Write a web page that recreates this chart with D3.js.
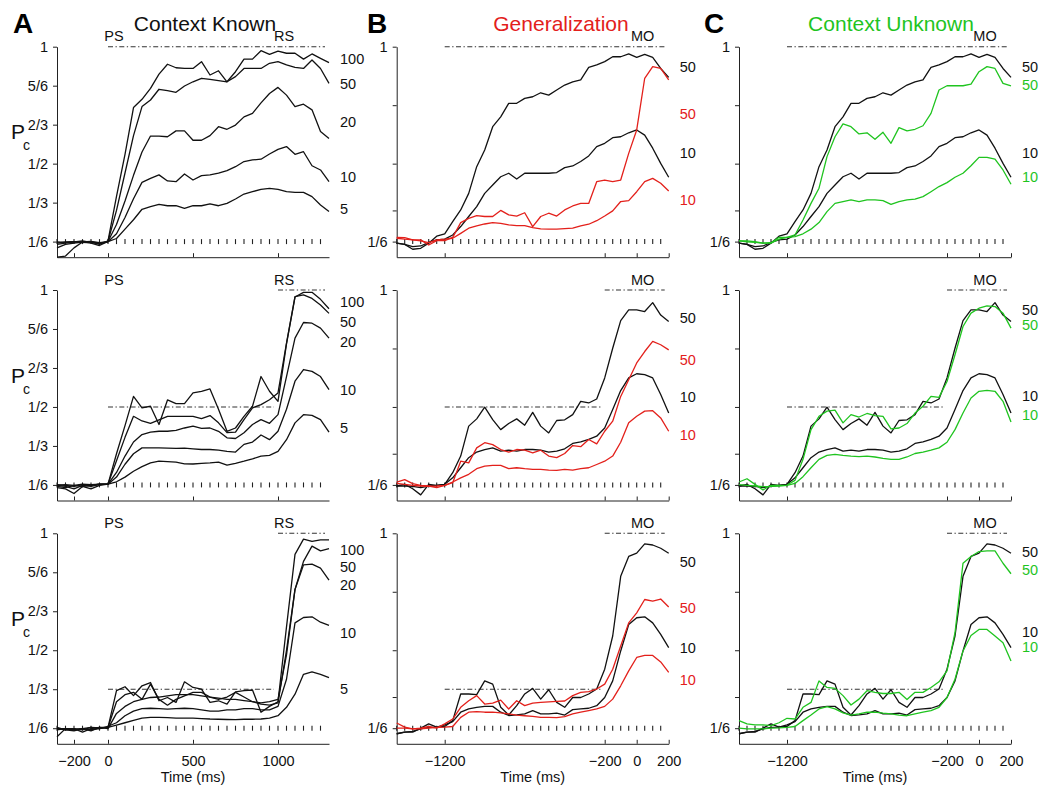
<!DOCTYPE html>
<html><head><meta charset="utf-8">
<script src="https://cdn.jsdelivr.net/npm/d3@7"></script>
<style>
body{margin:0;background:#fff;}
svg text{font-family:"Liberation Sans",Arial,Helvetica,sans-serif;fill:#111;}
</style></head><body>
<svg id="chart" width="1040" height="790"></svg>
<script>
// ---------- DATA ----------
const timeKnown = [-300,-250,-200,-150,-100,-50,0,50,100,150,200,250,300,350,400,450,500,550,600,650,700,750,800,850,900,950,1000,1050,1100,1150,1200,1250,1300];
const timeMO = [-1500,-1450,-1400,-1350,-1300,-1250,-1200,-1150,-1100,-1050,-1000,-950,-900,-850,-800,-750,-700,-650,-600,-550,-500,-450,-400,-350,-300,-250,-200,-150,-100,-50,0,50,100,150,200];

const columnTitles = ["Context Known","Generalization","Context Unknown"];
const panelLetters = ["A","B","C"];
const eventsKnown = [{t:0,name:"PS"},{t:1000,name:"RS"}];
const eventsMO = [{t:0,name:"MO"}];
const yTicksKnown = [1,5/6,2/3,1/2,1/3,1/6];
const yTickLabelsKnown = ["1","5/6","2/3","1/2","1/3","1/6"];
const yTicksMO = [1,0.75,0.5,0.3,1/6];
const yTickLabelsMO = ["1","","","","1/6"];
const xTicksKnown = [-200,0,500,1000];
const xTicksMO = [-1200,-200,0,200];
const rowCriteria = [1,1/2,1/3];   // criterion level (dash-dot) per row

// Panel A, Context Known (aligned to PS)
const knownTop100 = [0.10,0.105,0.14,0.165,0.165,0.155,0.17,0.36,0.54,0.74,0.775,0.822,0.883,0.925,0.91,0.907,0.907,0.936,0.879,0.897,0.85,0.893,0.947,0.947,0.983,0.967,0.981,0.972,0.972,0.947,0.969,0.95,0.932];
const knownTop50  = [0.14,0.155,0.16,0.165,0.16,0.15,0.168,0.30,0.46,0.62,0.744,0.772,0.818,0.812,0.805,0.832,0.85,0.865,0.86,0.855,0.85,0.872,0.907,0.907,0.907,0.929,0.936,0.922,0.912,0.907,0.943,0.907,0.843];
const knownTop20  = [0.16,0.165,0.167,0.162,0.165,0.16,0.167,0.24,0.34,0.45,0.55,0.618,0.618,0.615,0.64,0.64,0.60,0.60,0.62,0.658,0.647,0.665,0.70,0.715,0.76,0.80,0.826,0.793,0.744,0.754,0.73,0.637,0.608];
const knownTop10  = [0.155,0.16,0.165,0.17,0.163,0.158,0.166,0.20,0.27,0.35,0.42,0.437,0.452,0.426,0.423,0.456,0.43,0.449,0.452,0.459,0.47,0.487,0.509,0.516,0.519,0.541,0.561,0.573,0.54,0.551,0.491,0.473,0.423];
const knownTop5   = [0.165,0.163,0.167,0.165,0.168,0.162,0.167,0.18,0.22,0.26,0.305,0.316,0.326,0.32,0.32,0.309,0.32,0.32,0.328,0.32,0.33,0.349,0.37,0.38,0.39,0.394,0.39,0.38,0.377,0.377,0.359,0.323,0.295];

const knownMid100 = [0.16,0.155,0.165,0.16,0.165,0.17,0.17,0.30,0.42,0.545,0.496,0.503,0.425,0.53,0.514,0.514,0.56,0.567,0.577,0.49,0.396,0.41,0.46,0.503,0.63,0.567,0.524,0.77,0.97,0.99,0.99,0.96,0.92];
const knownMid50  = [0.155,0.15,0.13,0.16,0.15,0.165,0.17,0.27,0.37,0.46,0.44,0.43,0.445,0.46,0.46,0.46,0.46,0.45,0.463,0.432,0.39,0.392,0.446,0.496,0.51,0.531,0.56,0.773,0.972,0.979,0.964,0.936,0.90];
const knownMid20  = [0.165,0.16,0.15,0.165,0.16,0.168,0.17,0.22,0.29,0.35,0.382,0.392,0.396,0.396,0.40,0.41,0.418,0.408,0.41,0.396,0.368,0.365,0.39,0.425,0.446,0.43,0.467,0.63,0.794,0.861,0.858,0.837,0.794];
const knownMid10  = [0.168,0.165,0.16,0.168,0.165,0.17,0.17,0.20,0.255,0.30,0.325,0.325,0.325,0.324,0.323,0.324,0.321,0.318,0.318,0.315,0.31,0.307,0.34,0.35,0.38,0.36,0.396,0.49,0.61,0.66,0.652,0.63,0.574];
const knownMid5   = [0.165,0.168,0.165,0.17,0.168,0.17,0.17,0.18,0.20,0.225,0.245,0.261,0.268,0.266,0.264,0.257,0.256,0.259,0.261,0.264,0.251,0.259,0.268,0.278,0.29,0.293,0.31,0.36,0.432,0.467,0.464,0.446,0.392];

const knownBot100 = [0.13,0.165,0.16,0.165,0.155,0.17,0.17,0.327,0.344,0.306,0.348,0.362,0.284,0.298,0.277,0.365,0.341,0.334,0.277,0.284,0.27,0.322,0.327,0.33,0.235,0.26,0.28,0.60,0.91,0.975,0.965,0.972,0.972];
const knownBot50  = [0.165,0.16,0.155,0.165,0.17,0.165,0.17,0.28,0.31,0.32,0.29,0.355,0.29,0.265,0.29,0.305,0.32,0.32,0.30,0.29,0.30,0.32,0.30,0.28,0.27,0.265,0.275,0.50,0.76,0.88,0.945,0.925,0.935];
const knownBot20  = [0.17,0.16,0.165,0.15,0.165,0.17,0.165,0.23,0.26,0.28,0.29,0.298,0.30,0.305,0.31,0.31,0.31,0.305,0.30,0.295,0.29,0.29,0.285,0.28,0.275,0.28,0.29,0.48,0.76,0.865,0.868,0.851,0.80];
const knownBot10  = [0.165,0.165,0.16,0.165,0.16,0.165,0.175,0.19,0.22,0.24,0.25,0.252,0.25,0.248,0.25,0.252,0.25,0.245,0.24,0.24,0.245,0.245,0.25,0.25,0.245,0.245,0.26,0.376,0.617,0.64,0.643,0.62,0.606];
const knownBot5   = [0.16,0.165,0.165,0.16,0.17,0.168,0.17,0.18,0.19,0.20,0.21,0.213,0.213,0.212,0.21,0.21,0.21,0.208,0.206,0.205,0.204,0.203,0.205,0.205,0.206,0.21,0.22,0.256,0.312,0.397,0.407,0.397,0.383];

// Context known curves realigned to movement onset (black in B and C)
const moTopBlack50 = [0.16,0.155,0.134,0.138,0.16,0.19,0.2,0.252,0.302,0.373,0.487,0.558,0.658,0.70,0.758,0.758,0.779,0.786,0.803,0.793,0.815,0.836,0.85,0.858,0.912,0.922,0.936,0.957,0.957,0.969,0.954,0.967,0.954,0.907,0.869];
const moTopBlack10 = [0.16,0.155,0.145,0.148,0.163,0.174,0.177,0.195,0.231,0.274,0.316,0.373,0.409,0.444,0.459,0.434,0.459,0.459,0.459,0.459,0.462,0.483,0.49,0.509,0.533,0.573,0.587,0.611,0.615,0.632,0.644,0.622,0.566,0.501,0.442];
const moMidBlack50 = [0.162,0.169,0.15,0.124,0.169,0.165,0.169,0.219,0.29,0.418,0.449,0.499,0.446,0.403,0.429,0.449,0.422,0.477,0.418,0.389,0.442,0.445,0.467,0.524,0.517,0.534,0.624,0.751,0.869,0.915,0.915,0.908,0.946,0.893,0.865];
const moMidBlack10 = [0.162,0.162,0.16,0.155,0.162,0.165,0.169,0.197,0.24,0.283,0.307,0.318,0.325,0.311,0.315,0.311,0.318,0.318,0.315,0.307,0.311,0.321,0.344,0.351,0.361,0.375,0.41,0.489,0.57,0.624,0.642,0.638,0.624,0.553,0.474];
const moBotBlack50 = [0.143,0.15,0.15,0.167,0.185,0.171,0.174,0.199,0.313,0.313,0.31,0.369,0.355,0.256,0.223,0.263,0.313,0.337,0.291,0.331,0.277,0.256,0.298,0.298,0.313,0.334,0.419,0.561,0.816,0.901,0.915,0.955,0.95,0.936,0.915];
const moBotBlack10 = [0.143,0.15,0.153,0.164,0.17,0.171,0.181,0.195,0.235,0.249,0.256,0.26,0.26,0.235,0.221,0.224,0.228,0.242,0.228,0.228,0.231,0.223,0.246,0.249,0.252,0.263,0.298,0.369,0.497,0.61,0.639,0.643,0.617,0.568,0.511];

// Panel B, Generalization (red)
const genTop50 = [0.185,0.184,0.174,0.174,0.152,0.171,0.171,0.185,0.248,0.266,0.278,0.274,0.274,0.30,0.281,0.276,0.29,0.231,0.274,0.288,0.276,0.302,0.319,0.33,0.33,0.423,0.43,0.423,0.43,0.544,0.644,0.865,0.915,0.907,0.858];
const genTop10 = [0.181,0.177,0.174,0.17,0.162,0.174,0.177,0.181,0.202,0.224,0.234,0.242,0.248,0.245,0.238,0.235,0.235,0.226,0.221,0.22,0.22,0.222,0.224,0.234,0.241,0.256,0.276,0.298,0.338,0.342,0.38,0.423,0.437,0.416,0.383];
const genMid50 = [0.179,0.189,0.172,0.165,0.162,0.155,0.165,0.176,0.268,0.261,0.325,0.347,0.339,0.318,0.307,0.318,0.315,0.304,0.315,0.29,0.283,0.301,0.335,0.33,0.361,0.342,0.396,0.439,0.545,0.616,0.688,0.737,0.78,0.766,0.744];
const genMid10 = [0.173,0.169,0.165,0.162,0.16,0.162,0.165,0.179,0.197,0.212,0.236,0.247,0.25,0.25,0.236,0.24,0.236,0.233,0.233,0.23,0.229,0.233,0.23,0.236,0.24,0.254,0.268,0.29,0.349,0.432,0.46,0.482,0.484,0.453,0.396];
const genBot50 = [0.189,0.171,0.164,0.167,0.174,0.167,0.185,0.206,0.256,0.284,0.306,0.27,0.274,0.287,0.249,0.284,0.263,0.274,0.277,0.279,0.281,0.283,0.306,0.32,0.323,0.334,0.355,0.419,0.518,0.617,0.66,0.717,0.71,0.719,0.685];
const genBot10 = [0.167,0.167,0.164,0.164,0.167,0.17,0.171,0.174,0.213,0.235,0.238,0.235,0.235,0.232,0.228,0.223,0.22,0.217,0.213,0.213,0.212,0.216,0.228,0.235,0.242,0.249,0.26,0.291,0.348,0.412,0.469,0.478,0.478,0.45,0.405];

// Panel C, Context Unknown (green)
const unkTop50 = [0.17,0.17,0.166,0.16,0.162,0.185,0.185,0.195,0.259,0.33,0.395,0.53,0.615,0.67,0.658,0.627,0.632,0.604,0.634,0.587,0.654,0.64,0.647,0.662,0.715,0.815,0.833,0.833,0.833,0.84,0.893,0.915,0.907,0.843,0.832];
const unkTop10 = [0.17,0.166,0.163,0.16,0.16,0.177,0.185,0.188,0.20,0.22,0.248,0.295,0.33,0.338,0.345,0.338,0.345,0.345,0.342,0.326,0.338,0.345,0.348,0.359,0.38,0.402,0.419,0.442,0.459,0.491,0.527,0.527,0.519,0.473,0.412];
const unkMid50 = [0.179,0.193,0.169,0.145,0.165,0.165,0.166,0.186,0.276,0.403,0.46,0.482,0.486,0.432,0.467,0.457,0.472,0.463,0.46,0.406,0.41,0.429,0.474,0.503,0.545,0.541,0.609,0.723,0.844,0.901,0.922,0.932,0.929,0.901,0.837];
const unkMid10 = [0.168,0.165,0.162,0.159,0.16,0.162,0.165,0.173,0.202,0.24,0.276,0.293,0.297,0.293,0.29,0.288,0.29,0.286,0.28,0.276,0.276,0.286,0.301,0.307,0.315,0.325,0.349,0.403,0.474,0.538,0.567,0.571,0.567,0.524,0.436];
const unkBot50 = [0.199,0.185,0.181,0.181,0.178,0.19,0.209,0.206,0.256,0.277,0.369,0.341,0.337,0.306,0.266,0.291,0.327,0.32,0.315,0.315,0.32,0.289,0.32,0.32,0.341,0.365,0.412,0.575,0.872,0.901,0.922,0.925,0.925,0.872,0.827];
const unkBot10 = [0.167,0.164,0.164,0.164,0.167,0.168,0.17,0.174,0.199,0.223,0.249,0.259,0.249,0.232,0.223,0.228,0.235,0.235,0.231,0.228,0.223,0.22,0.228,0.235,0.242,0.256,0.298,0.376,0.497,0.563,0.589,0.589,0.561,0.532,0.454];

// ---------- STYLE / LAYOUT ----------
const BLACK = "#111", RED = "#e3201b", GREEN = "#1fc41f";
const colLeft = [57, 396.7, 739], plotW = 272;
const rowTop = [46.7, 290, 533.3], plotH = 210.5;
const titleX = [205, 561, 891], letterX = [13, 367, 704];
const titleColor = ["#111", RED, GREEN];
// vertical offsets (px from row top) of the right-hand series labels
const labelOffsets = [
  [[11.7,36.7,75,130,161.7],[11.7,31.7,51.7,100,138],[16,33.3,51.7,99.3,155]],
  [[20,67,106,153],[28,70,106.7,145],[28.3,74,114,146.7]],
  [[20,38,106,130],[20,35,106,125],[18.3,36,98.3,113.3]]
];

const panels = [];
const knownRows = [
  [knownTop100,knownTop50,knownTop20,knownTop10,knownTop5],
  [knownMid100,knownMid50,knownMid20,knownMid10,knownMid5],
  [knownBot100,knownBot50,knownBot20,knownBot10,knownBot5]];
const knownNames = ["100","50","20","10","5"];
const blackRows = [[moTopBlack50,moTopBlack10],[moMidBlack50,moMidBlack10],[moBotBlack50,moBotBlack10]];
const genRows = [[genTop50,genTop10],[genMid50,genMid10],[genBot50,genBot10]];
const unkRows = [[unkTop50,unkTop10],[unkMid50,unkMid10],[unkBot50,unkBot10]];

for (let r=0;r<3;r++){
  panels.push({col:0,row:r,time:timeKnown,domain:[-300,1300],events:eventsKnown,xt:xTicksKnown,yt:yTicksKnown,ytl:yTickLabelsKnown,
    series:knownRows[r].map((v,i)=>({v,color:BLACK,name:knownNames[i]}))});
  panels.push({col:1,row:r,time:timeMO,domain:[-1500,200],events:eventsMO,xt:xTicksMO,yt:yTicksMO,ytl:yTickLabelsMO,
    series:[{v:blackRows[r][0],color:BLACK,name:"50"},{v:genRows[r][0],color:RED,name:"50"},{v:blackRows[r][1],color:BLACK,name:"10"},{v:genRows[r][1],color:RED,name:"10"}]});
  panels.push({col:2,row:r,time:timeMO,domain:[-1500,200],events:eventsMO,xt:xTicksMO,yt:yTicksMO,ytl:yTickLabelsMO,
    series:[{v:blackRows[r][0],color:BLACK,name:"50"},{v:unkRows[r][0],color:GREEN,name:"50"},{v:blackRows[r][1],color:BLACK,name:"10"},{v:unkRows[r][1],color:GREEN,name:"10"}]});
}

const svg = d3.select("#chart");
const minus = s => String(s).replace("-", "\u2212");

panels.forEach(p=>{
  const left = colLeft[p.col], top = rowTop[p.row];
  const x = d3.scaleLinear().domain(p.domain).range([left, left+plotW]);
  const y = d3.scaleLinear().domain([0.1,1]).range([top+plotH, top]);
  const g = svg.append("g");

  // axes
  const ya = g.append("g").attr("transform",`translate(${left},0)`)
    .call(d3.axisLeft(y).tickValues(p.yt).tickSize(4).tickSizeOuter(0).tickPadding(5)
      .tickFormat((d,i)=>p.ytl[i]));
  const xa = g.append("g").attr("transform",`translate(0,${top+plotH})`)
    .call(d3.axisBottom(x).tickValues(p.xt).tickSize(-4).tickSizeOuter(0).tickPadding(12)
      .tickFormat(d=> p.row===2 ? minus(d) : ""));
  [ya,xa].forEach(a=>{
    a.selectAll("path,line").attr("stroke","#222").attr("stroke-width",1);
    a.selectAll("text").attr("font-size",14.5).attr("fill","#111")
      .style("font-family","'Liberation Sans',Arial,sans-serif");
  });

  // chance-level marks at 1/6
  const chanceT = d3.range(p.domain[0], p.domain[1]-49, 50);
  g.append("g").selectAll("line").data(chanceT).join("line")
    .attr("x1",d=>x(d)).attr("x2",d=>x(d))
    .attr("y1",y(1/6)-2.5).attr("y2",y(1/6)+2.5)
    .attr("stroke","#222").attr("stroke-width",1.1);

  // criterion dash-dot lines
  const tEvent = p.col===0 ? 1000 : -200;
  const tStart = p.col===0 ? 0 : -1200;
  const segs = p.row===0 ? [[tStart,p.domain[1],1]] :
    [[tStart,tEvent,rowCriteria[p.row]],[tEvent,p.domain[1],1]];
  segs.forEach(s=>{
    g.append("line").attr("x1",x(s[0])).attr("x2",x(s[1])-4)
      .attr("y1",y(s[2])).attr("y2",y(s[2]))
      .attr("stroke","#333").attr("stroke-width",1.1)
      .attr("stroke-dasharray","5,2.5,1.3,2.5");
  });

  // curves (black behind coloured)
  const line = d3.line().x((d,i)=>x(p.time[i])).y(d=>y(d));
  p.series.slice().sort((a,b)=>(a.color===BLACK?0:1)-(b.color===BLACK?0:1)).forEach(s=>{
    g.append("path").datum(s.v).attr("d",line).attr("fill","none")
      .attr("stroke",s.color).attr("stroke-width",1.3).attr("stroke-linejoin","round");
  });

  // series labels
  p.series.forEach((s,i)=>{
    g.append("text").attr("x",left+plotW+11).attr("y",top+labelOffsets[p.col][p.row][i])
      .attr("dy","0.36em").attr("font-size",14.5).style("fill",s.color).text(s.name);
  });

  // event labels
  p.events.forEach(e=>{
    g.append("text").attr("x",x(e.t)+6).attr("y",top-5.5).attr("text-anchor","middle")
      .attr("font-size",14.5).text(e.name);
  });

  // Pc label
  if (p.col===0){
    g.append("text").attr("x",11).attr("y",top+92.5).attr("font-size",21).text("P");
    g.append("text").attr("x",23).attr("y",top+103.5).attr("font-size",14).text("c");
  }
  // x title
  if (p.row===2){
    g.append("text").attr("x",left+plotW/2).attr("y",782).attr("text-anchor","middle")
      .attr("font-size",14.5).text("Time (ms)");
  }
});

// column titles & panel letters
columnTitles.forEach((t,i)=>{
  svg.append("text").attr("x",titleX[i]).attr("y",31).attr("text-anchor","middle")
    .attr("font-size",21).style("fill",titleColor[i]).text(t);
  svg.append("text").attr("x",letterX[i]).attr("y",32.5).attr("font-size",28)
    .attr("font-weight","bold").style("fill","#000").text(panelLetters[i]);
});
</script></body></html>
